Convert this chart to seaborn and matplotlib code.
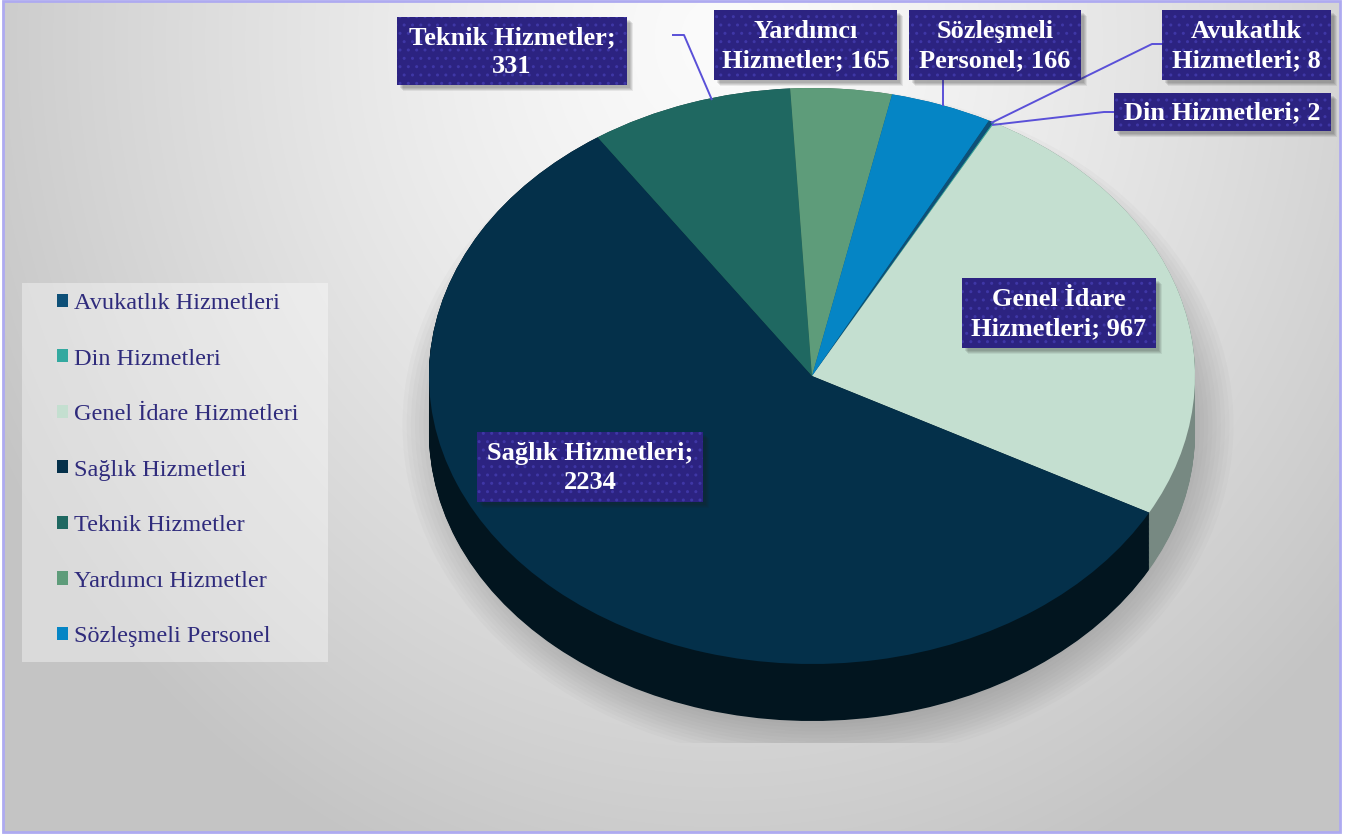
import numpy as np
import matplotlib
matplotlib.use("Agg")
import matplotlib.pyplot as plt
import seaborn as sns
from matplotlib.patches import Rectangle, Ellipse

# ---------------- data ----------------
categories = ["Avukatlık Hizmetleri", "Din Hizmetleri", "Genel İdare Hizmetleri",
              "Sağlık Hizmetleri", "Teknik Hizmetler", "Yardımcı Hizmetler",
              "Sözleşmeli Personel"]
values = [8, 2, 967, 2234, 331, 165, 166]
label_split = ["last", "none", "last", "semi", "semi", "last", "last"]

top_colors = ["#0e5078", "#33a9a0", "#c4dfd0", "#04304a", "#1f6861", "#5e9c7a", "#0585c5"]
side_colors = ["#08344f", "#1f6f69", "#778982", "#02151f", "#12413d", "#3b6650", "#035a86"]

# label boxes (pixel extents: x0, y0, x1, y1)
label_boxes = [(1162, 10, 1331, 80), (1114, 93, 1331, 131), (962, 278, 1156, 348),
               (477, 432, 703, 502), (397, 17, 627, 85), (714, 10, 897, 80),
               (909, 10, 1081, 80)]
leader_lines = [[(1162, 44), (1152, 44), (991, 123)],
                [(1114, 112), (1104, 112), (992, 125)],
                None, None,
                [(672, 35), (684, 35), (712, 100)],
                None,
                [(943, 80), (943, 106)]]

W, H = 1357, 834

sns.set_theme(style="white")
plt.rcParams["font.family"] = ["Liberation Serif", "DejaVu Serif"]

fig = plt.figure(figsize=(W / 100, H / 100), dpi=100)
fig.patch.set_facecolor("white")

# ---------------- background ----------------
bg = fig.add_axes([0, 0, 1, 1], zorder=0)
bg.set_xlim(0, W)
bg.set_ylim(H, 0)
bg.axis("off")
yy, xx = np.mgrid[0:H, 0:1338]
r = np.sqrt(((xx - 720) / 820.0) ** 2 + ((yy - 40) / 900.0) ** 2)
shade = 0.985 - 0.215 * np.clip(r, 0, 1) ** 1.3
img = np.dstack([shade, shade, shade])
bg.imshow(img, extent=(3, 1340, 832, 1), aspect="auto", interpolation="bilinear", zorder=0)
bg.add_patch(Rectangle((2.5, 1), 1337.5, 831, fill=False, edgecolor="#aeaaf0", linewidth=2, zorder=5))

# soft shadow beneath pie
clip = Rectangle((0, 0), W, 743, transform=bg.transData)
for s in np.linspace(1.06, 0.92, 14):
    e = Ellipse((818, 425), 2 * 392 * s, 2 * 318 * s, facecolor="#707070",
                edgecolor="none", alpha=0.04, zorder=1)
    bg.add_patch(e)
    e.set_clip_path(clip)

# legend box
bg.add_patch(Rectangle((22, 283), 306, 379, facecolor="white", alpha=0.38,
                       edgecolor="none", zorder=2))

# ---------------- pie (3D look) ----------------
cx, cy, rx, ry = 812, 376, 383, 288
depth_px = 57
top_px, bot_px = cy - ry, 765
pie_ax = fig.add_axes([(cx - rx) / W, 1 - bot_px / H, 2 * rx / W, (bot_px - top_px) / H], zorder=1)
pie_ax.patch.set_alpha(0)
depth = depth_px / ry
n_layers = 70
for k in range(n_layers):
    off = depth * (1 - k / (n_layers - 1))
    pie_ax.pie(values, colors=side_colors, startangle=62.5, counterclock=False,
               radius=1, center=(0, -off), wedgeprops=dict(linewidth=0, antialiased=True))
wedges, _ = pie_ax.pie(values, colors=top_colors, startangle=62.5, counterclock=False,
                       radius=1, center=(0, 0), wedgeprops=dict(linewidth=0))
pie_ax.set_aspect("auto")
pie_ax.set_xlim(-1, 1)
pie_ax.set_ylim(-(bot_px - cy) / ry, 1)
pie_ax.axis("off")

# ---------------- labels ----------------
ov = fig.add_axes([0, 0, 1, 1], zorder=3)
ov.set_xlim(0, W)
ov.set_ylim(H, 0)
ov.axis("off")
ov.patch.set_alpha(0)

for cat, val, mode, box, line in zip(categories, values, label_split, label_boxes, leader_lines):
    if mode == "last":
        head, tail = cat.rsplit(" ", 1)
        txt = f"{head}\n{tail}; {val}"
    elif mode == "semi":
        txt = f"{cat};\n{val}"
    else:
        txt = f"{cat}; {val}"
    x0, y0, x1, y1 = box
    if line is not None:
        xs, ys = zip(*line)
        ov.plot(xs, ys, color="#5a50d8", linewidth=1.4, zorder=2, solid_capstyle="butt")
    for i, a in enumerate([0.10, 0.10, 0.10, 0.08]):
        ov.add_patch(Rectangle((x0 + 3 + i, y0 + 3 + i), x1 - x0, y1 - y0,
                               facecolor="#202020", alpha=a, edgecolor="none", zorder=3))
    ov.add_patch(Rectangle((x0, y0), x1 - x0, y1 - y0, facecolor="#2c2381",
                           edgecolor="#3f37a6", hatch="..", linewidth=0, zorder=4))
    ov.text((x0 + x1) / 2, (y0 + y1) / 2 + 1, txt, ha="center", va="center",
            fontsize=19, fontweight="bold", color="white", linespacing=1.33, zorder=5)

# ---------------- legend ----------------
fig.legend(wedges, categories, loc="upper left",
           bbox_to_anchor=(57 / W, 1 - 293 / H), frameon=False,
           fontsize=17.5, labelcolor="#2f2b7c",
           handlelength=0.46, handleheight=0.46, handletextpad=0.22,
           labelspacing=1.42, borderpad=0, borderaxespad=0)

fig.savefig("out.png", dpi=100)
